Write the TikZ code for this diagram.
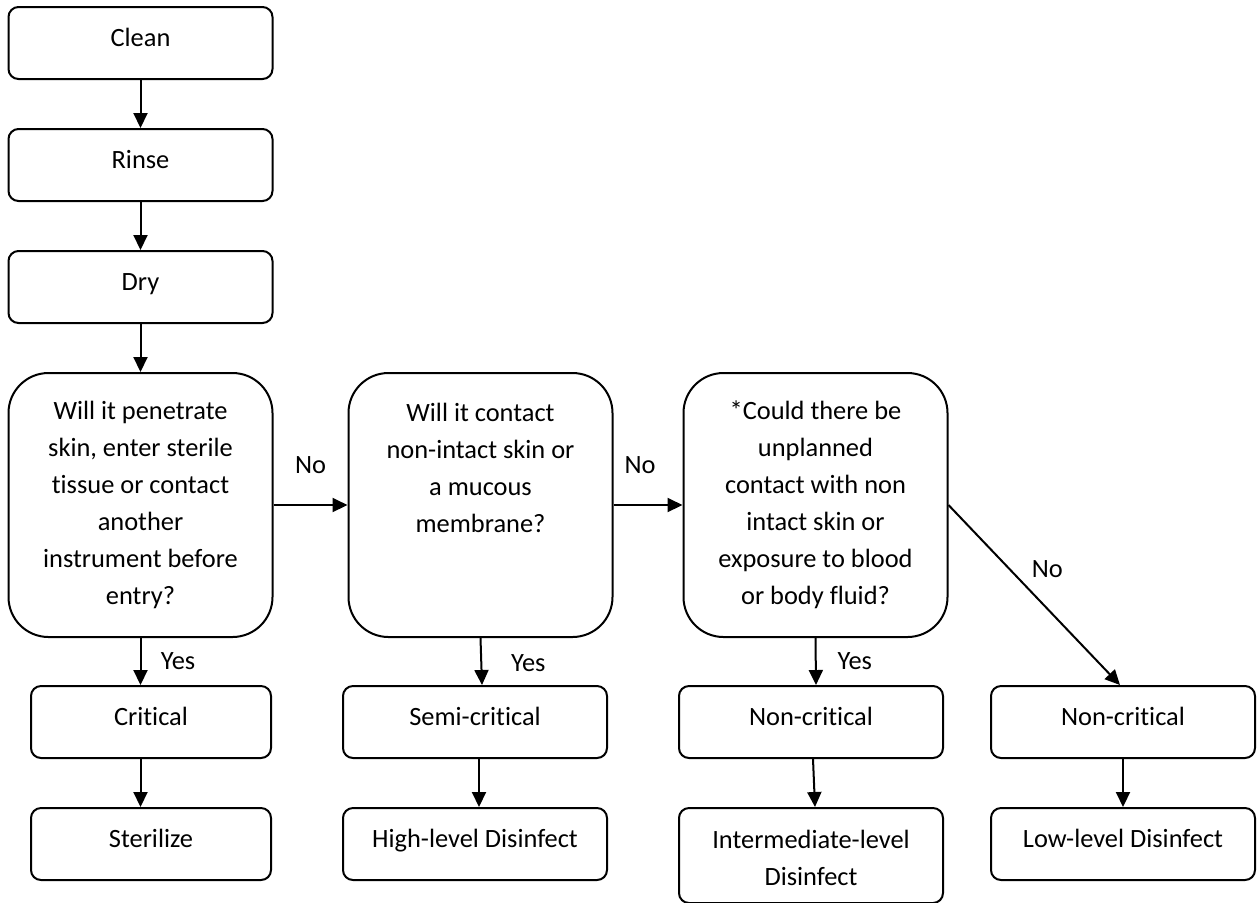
\documentclass[tikz,border=0pt]{standalone}
\usepackage{fontspec}
\setmainfont[Ligatures={NoCommon}]{Carlito}
\usetikzlibrary{arrows.meta, positioning}
\tikzstyle{stepbox} = [rectangle, rounded corners=5pt, minimum width=132pt, minimum height=36pt, align=center, draw=black, line width=1pt, text height=9pt, text depth=5.6pt]
\tikzstyle{question} = [rectangle, rounded corners=20pt, minimum width=132pt, minimum height=132pt, align=center, draw=black, line width=1pt]
\tikzstyle{arrow} = [line width=1pt, -{Triangle[length=7.5pt, width=7pt]}]

\begin{document}
\begin{tikzpicture}[x=0.5pt, y=-0.5pt, every node/.style={font=\fontsize{13.2}{18.5}\selectfont}]
    \useasboundingbox (0,0) rectangle (1258,902);

    % cleaning chain
    \node (clean) [stepbox] at (140.5,43) {Clean};
    \node (rinse) [stepbox, below=24pt of clean] {Rinse};
    \node (dry) [stepbox, below=24pt of rinse] {Dry};

    % questions
    \node (q1) [question, below=24pt of dry] {Will it penetrate\\ skin, enter sterile\\ tissue or contact\\ another\\ instrument before\\ entry?};
    \node (q2) [question, right=37pt of q1] {Will it contact\\ non-intact skin or\\ a mucous\\ membrane?\\ \mbox{}\\ \mbox{}};
    \node (q3) [question, right=34.5pt of q2] {*Could there be\\ unplanned\\ contact with non\\ intact skin or\\ exposure to blood\\ or body fluid?};

    % classes
    \node (crit) [stepbox, minimum width=120pt] at (151,722) {Critical};
    \node (semi) [stepbox] at (475,722) {Semi-critical};
    \node (nc1) [stepbox] at (811,722) {Non-critical};
    \node (nc2) [stepbox] at (1123,722) {Non-critical};

    % treatments
    \node (ster) [stepbox, minimum width=120pt, below=24pt of crit] {Sterilize};
    \node (high) [stepbox, below=24pt of semi] {High-level Disinfect};
    \node (inter) [stepbox, minimum height=47.5pt, text height=29.9pt, text depth=0pt, below=24pt of nc1] {Intermediate-level\\ Disinfect};
    \node (low) [stepbox, below=24pt of nc2] {Low-level Disinfect};

    \draw [arrow] (clean) -- (rinse);
    \draw [arrow] (rinse) -- (dry);
    \draw [arrow] (dry) -- (q1);

    \draw [arrow] (q1) -- node[midway, yshift=20pt] {No} (q2);
    \draw [arrow] (q2) -- node[midway, xshift=-4pt, yshift=20pt] {No} (q3);
    \draw [arrow] (q3.east) -- node[midway, xshift=6.5pt, yshift=12.75pt] {No} ([xshift=-1.5pt]nc2.north);

    \draw [arrow] (q1.south) -- node[midway, xshift=18.75pt] {Yes} (q1.south |- crit.north);
    \draw [arrow] (q2.south) -- node[midway, xshift=23.5pt, yshift=-0.75pt] {Yes} ([xshift=3.5pt]semi.north);
    \draw [arrow] (q3.south) -- node[midway, xshift=19.5pt] {Yes} ([xshift=2.5pt]nc1.north);

    \draw [arrow] (crit.south -| q1.south) -- (q1.south |- ster.north);
    \draw [arrow] ([xshift=2pt]semi.south) -- ([xshift=2pt]high.north);
    \draw [arrow] ([xshift=1pt]nc1.south) -- ([xshift=2pt]inter.north);
    \draw [arrow] (nc2) -- (low);
\end{tikzpicture}
\end{document}
